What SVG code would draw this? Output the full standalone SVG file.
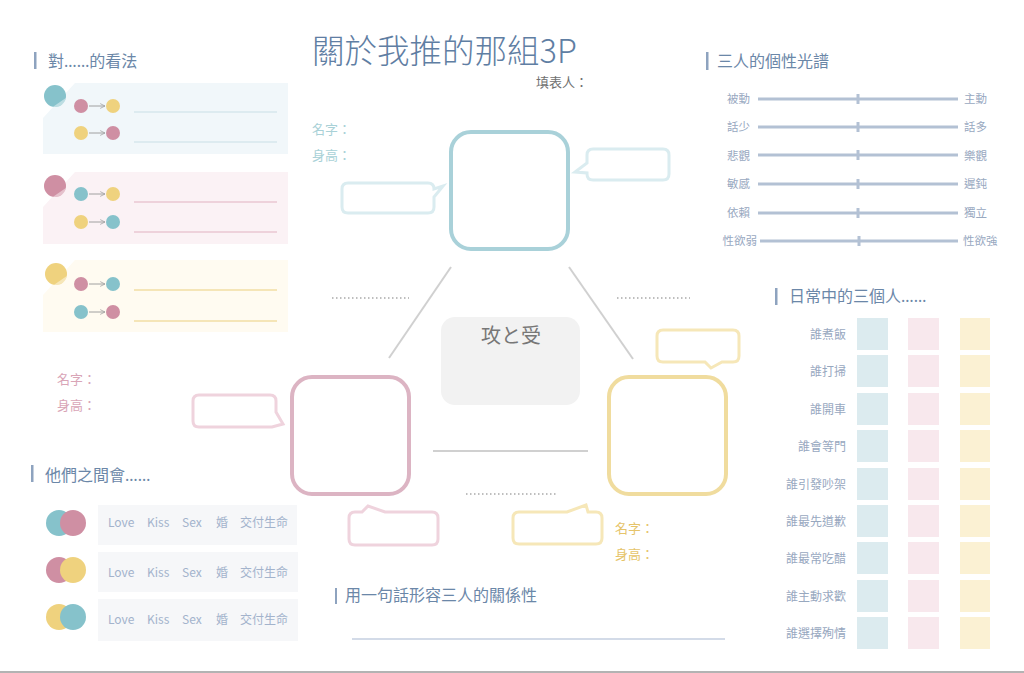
<svg xmlns="http://www.w3.org/2000/svg" width="1024" height="673" viewBox="0 0 1024 673">
<defs>
<style>
text{font-family:"Noto Sans CJK TC","Noto Sans",sans-serif;}
.el{font-family:"Noto Sans","Open Sans",sans-serif;}
.hd{font-size:16px;fill:#6b87a8;}
.bar{fill:#8ea3bf;}
.sp{font-size:11.5px;fill:#98a8bf;}
.spl{stroke:#b3c1d4;stroke-width:3;}
.gl{font-size:12px;fill:#98a8bf;text-anchor:end;}
.lv{font-size:12px;fill:#a3b3cc;font-family:"Open Sans","Noto Sans CJK TC",sans-serif;}
.cb{fill:#f6f7f9;}
.ct{fill:#86c2cb;}
.cp{fill:#cf8fa3;}
.cy{fill:#efd27e;}
.arr{stroke:#a0a0a0;stroke-width:1;fill:none;}
.conn{stroke:#d0d0d0;stroke-width:2;fill:none;}
.dot{stroke:#a9a9a9;stroke-width:1.5;stroke-dasharray:1.5 2.5;fill:none;}
.hl{fill:#ffffff;opacity:0.45;}
</style>
<marker id="ah" viewBox="0 0 10 10" refX="9" refY="5" markerWidth="6" markerHeight="6" orient="auto">
<path d="M1,1 L9,5 L1,9" fill="none" stroke="#a0a0a0" stroke-width="1.3"/>
</marker>
</defs>
<rect x="0" y="0" width="1024" height="673" fill="#ffffff"/>
<line x1="0" y1="672" x2="1024" y2="672" stroke="#9a9a9a" stroke-width="1.5"/>

<g id="title">
<text x="312" y="63" font-size="32.5" font-weight="300" fill="#5f7ea3">關於我推的那組3P</text>
<text x="536" y="87" font-size="13" fill="#707070">填表人：</text>
</g>

<g id="views">
<rect class="bar" x="34" y="52" width="2.5" height="17"/>
<text class="hd" x="48" y="67">對<tspan class="el">……</tspan>的看法</text>
<g id="view-teal">
<polygon points="75,83 288,83 288,154 43,154 43,118" fill="#f1f7fa"/>
<circle class="ct" cx="55" cy="96" r="11"/>
<path class="hl" d="M65.8,97.9 A11,11 0 0 1 53.1,106.8 Z"/>
<circle class="cp" cx="81" cy="106" r="7"/><line class="arr" x1="89" y1="106" x2="105" y2="106" marker-end="url(#ah)"/><circle class="cy" cx="113" cy="106" r="7"/>
<circle class="cy" cx="81" cy="133" r="7"/><line class="arr" x1="89" y1="133" x2="105" y2="133" marker-end="url(#ah)"/><circle class="cp" cx="113" cy="133" r="7"/>
<line x1="134" y1="112" x2="277" y2="112" stroke="#c9e0e6" stroke-width="1.2"/>
<line x1="134" y1="142" x2="277" y2="142" stroke="#c9e0e6" stroke-width="1.2"/>
</g>
<g id="view-pink">
<polygon points="75,172 288,172 288,244 43,244 43,207" fill="#fbf2f5"/>
<circle class="cp" cx="55" cy="186" r="11"/>
<path class="hl" d="M65.8,187.9 A11,11 0 0 1 53.1,196.8 Z"/>
<circle class="ct" cx="81" cy="194" r="7"/><line class="arr" x1="89" y1="194" x2="105" y2="194" marker-end="url(#ah)"/><circle class="cy" cx="113" cy="194" r="7"/>
<circle class="cy" cx="81" cy="222" r="7"/><line class="arr" x1="89" y1="222" x2="105" y2="222" marker-end="url(#ah)"/><circle class="ct" cx="113" cy="222" r="7"/>
<line x1="134" y1="202" x2="277" y2="202" stroke="#e2b2c2" stroke-width="1.2"/>
<line x1="134" y1="232" x2="277" y2="232" stroke="#e2b2c2" stroke-width="1.2"/>
</g>
<g id="view-yellow">
<polygon points="75,260 288,260 288,332 43,332 43,295" fill="#fffbf1"/>
<circle class="cy" cx="56" cy="274" r="11"/>
<path class="hl" d="M66.8,275.9 A11,11 0 0 1 54.1,284.8 Z"/>
<circle class="cp" cx="81" cy="284" r="7"/><line class="arr" x1="89" y1="284" x2="105" y2="284" marker-end="url(#ah)"/><circle class="ct" cx="113" cy="284" r="7"/>
<circle class="ct" cx="81" cy="312" r="7"/><line class="arr" x1="89" y1="312" x2="105" y2="312" marker-end="url(#ah)"/><circle class="cp" cx="113" cy="312" r="7"/>
<line x1="134" y1="290" x2="277" y2="290" stroke="#eccf7e" stroke-width="1.2"/>
<line x1="134" y1="321" x2="277" y2="321" stroke="#eccf7e" stroke-width="1.2"/>
</g>
</g>

<g id="connectors">
<line class="conn" x1="451" y1="267" x2="389" y2="358"/>
<line class="conn" x1="569" y1="267" x2="633" y2="359"/>
<line class="conn" x1="433" y1="451" x2="588" y2="451"/>
<line class="dot" x1="332" y1="298" x2="409" y2="298"/>
<line class="dot" x1="617" y1="298" x2="690" y2="298"/>
<line class="dot" x1="466" y1="494" x2="556" y2="494"/>
</g>

<g id="person-teal">
<text x="312" y="134" font-size="13" fill="#a9d1d7">名字：</text>
<text x="312" y="160" font-size="13" fill="#a9d1d7">身高：</text>
<rect x="451" y="132" width="117" height="117" rx="20" fill="none" stroke="#a9d1d9" stroke-width="4"/>
<path d="M348,183 H428 Q434,183 434,189 L443,186 L434,197 V207 Q434,213 428,213 H348 Q342,213 342,207 V189 Q342,183 348,183 Z" fill="#ffffff" stroke="#daecf0" stroke-width="3"/>
<path d="M593,149 H663 Q669,149 669,155 V174 Q669,180 663,180 H593 Q587,180 587,174 V173 L575,172 L587,163 V155 Q587,149 593,149 Z" fill="#ffffff" stroke="#daecf0" stroke-width="3"/>
</g>

<g id="center">
<rect x="441" y="317" width="139" height="88" rx="14" fill="#f2f2f2"/>
<text x="511" y="343" font-size="20" fill="#777777" text-anchor="middle">攻と受</text>
</g>

<g id="person-pink">
<text x="57" y="384" font-size="13" fill="#d9a5b7">名字：</text>
<text x="57" y="410" font-size="13" fill="#d9a5b7">身高：</text>
<rect x="292" y="377" width="117" height="117" rx="20" fill="none" stroke="#dcb4c3" stroke-width="4"/>
<path d="M199,395 H270 Q276,395 276,401 V412 L283,424 L272,427 H199 Q193,427 193,421 V401 Q193,395 199,395 Z" fill="#ffffff" stroke="#efd3dd" stroke-width="3"/>
<path d="M355,512 H362 L368,506 L385,512 H432 Q438,512 438,518 V539 Q438,545 432,545 H355 Q349,545 349,539 V518 Q349,512 355,512 Z" fill="#ffffff" stroke="#efd3dd" stroke-width="3"/>
</g>

<g id="person-yellow">
<rect x="609" y="377" width="117" height="117" rx="20" fill="none" stroke="#f0dc9e" stroke-width="4"/>
<path d="M663,330 H733 Q739,330 739,336 V356 Q739,362 733,362 H722 L711,368 L705,362 H663 Q657,362 657,356 V336 Q657,330 663,330 Z" fill="#ffffff" stroke="#f6e7b8" stroke-width="3"/>
<path d="M519,512 H567 L586,505 L588,512 H596 Q602,512 602,518 V538 Q602,544 596,544 H519 Q513,544 513,538 V518 Q513,512 519,512 Z" fill="#ffffff" stroke="#f6e7b8" stroke-width="3"/>
<text x="615" y="533" font-size="13" fill="#e6c46a">名字：</text>
<text x="615" y="559" font-size="13" fill="#e6c46a">身高：</text>
</g>

<g id="spectrum">
<rect class="bar" x="706" y="52" width="2.5" height="18"/>
<text class="hd" x="717" y="67">三人的個性光譜</text>
<g>
<text class="sp" x="750" y="103" text-anchor="end">被動</text><line class="spl" x1="758" y1="99" x2="958" y2="99"/><line class="spl" stroke-width="1.5" x1="858" y1="94" x2="858" y2="104"/><text class="sp" x="964" y="103">主動</text>
<text class="sp" x="750" y="131" text-anchor="end">話少</text><line class="spl" x1="758" y1="127" x2="958" y2="127"/><line class="spl" stroke-width="1.5" x1="858" y1="122" x2="858" y2="132"/><text class="sp" x="964" y="131">話多</text>
<text class="sp" x="750" y="160" text-anchor="end">悲觀</text><line class="spl" x1="758" y1="155" x2="958" y2="155"/><line class="spl" stroke-width="1.5" x1="858" y1="150" x2="858" y2="160"/><text class="sp" x="964" y="160">樂觀</text>
<text class="sp" x="750" y="188" text-anchor="end">敏感</text><line class="spl" x1="758" y1="184" x2="958" y2="184"/><line class="spl" stroke-width="1.5" x1="858" y1="179" x2="858" y2="189"/><text class="sp" x="964" y="188">遲鈍</text>
<text class="sp" x="750" y="217" text-anchor="end">依賴</text><line class="spl" x1="758" y1="213" x2="958" y2="213"/><line class="spl" stroke-width="1.5" x1="858" y1="208" x2="858" y2="218"/><text class="sp" x="964" y="217">獨立</text>
<text class="sp" x="757" y="245" text-anchor="end">性欲弱</text><line class="spl" x1="760" y1="241" x2="958" y2="241"/><line class="spl" stroke-width="1.5" x1="859" y1="236" x2="859" y2="246"/><text class="sp" x="963" y="245">性欲強</text>
</g>
</g>

<g id="daily">
<rect class="bar" x="775" y="288" width="2.5" height="17"/>
<text class="hd" x="789" y="302">日常中的三個人<tspan class="el">……</tspan></text>
<g fill="#dcebef">
<rect x="857" y="318" width="31" height="32"/><rect x="857" y="355" width="31" height="32"/><rect x="857" y="393" width="31" height="32"/><rect x="857" y="430" width="31" height="32"/><rect x="857" y="468" width="31" height="32"/><rect x="857" y="505" width="31" height="32"/><rect x="857" y="542" width="31" height="32"/><rect x="857" y="580" width="31" height="32"/><rect x="857" y="617" width="31" height="32"/>
</g>
<g fill="#f8e8ed">
<rect x="908" y="318" width="31" height="32"/><rect x="908" y="355" width="31" height="32"/><rect x="908" y="393" width="31" height="32"/><rect x="908" y="430" width="31" height="32"/><rect x="908" y="468" width="31" height="32"/><rect x="908" y="505" width="31" height="32"/><rect x="908" y="542" width="31" height="32"/><rect x="908" y="580" width="31" height="32"/><rect x="908" y="617" width="31" height="32"/>
</g>
<g fill="#fbf1d3">
<rect x="960" y="318" width="30" height="32"/><rect x="960" y="355" width="30" height="32"/><rect x="960" y="393" width="30" height="32"/><rect x="960" y="430" width="30" height="32"/><rect x="960" y="468" width="30" height="32"/><rect x="960" y="505" width="30" height="32"/><rect x="960" y="542" width="30" height="32"/><rect x="960" y="580" width="30" height="32"/><rect x="960" y="617" width="30" height="32"/>
</g>
<text class="gl" x="846" y="339">誰煮飯</text>
<text class="gl" x="846" y="376">誰打掃</text>
<text class="gl" x="846" y="414">誰開車</text>
<text class="gl" x="846" y="451">誰會等門</text>
<text class="gl" x="846" y="489">誰引發吵架</text>
<text class="gl" x="846" y="526">誰最先道歉</text>
<text class="gl" x="846" y="563">誰最常吃醋</text>
<text class="gl" x="846" y="601">誰主動求歡</text>
<text class="gl" x="846" y="638">誰選擇殉情</text>
</g>

<g id="between">
<rect class="bar" x="31" y="465" width="2.5" height="17"/>
<text class="hd" x="45" y="481">他們之間會<tspan class="el">……</tspan></text>
<rect class="cb" x="98" y="505" width="199" height="40"/>
<rect class="cb" x="98" y="552" width="200" height="40"/>
<rect class="cb" x="98" y="599" width="200" height="42"/>
<circle class="ct" cx="59" cy="523" r="13"/><circle class="cp" cx="73" cy="523" r="13"/>
<circle class="cp" cx="59" cy="570" r="13"/><circle class="cy" cx="73" cy="570" r="13"/>
<circle class="cy" cx="59" cy="617" r="13"/><circle class="ct" cx="73" cy="617" r="13"/>
<g class="lv">
<text x="108" y="527">Love</text><text x="147" y="527">Kiss</text><text x="182" y="527">Sex</text><text x="216" y="527">婚</text><text x="240" y="527">交付生命</text>
<text x="108" y="577">Love</text><text x="147" y="577">Kiss</text><text x="182" y="577">Sex</text><text x="216" y="577">婚</text><text x="240" y="577">交付生命</text>
<text x="108" y="624">Love</text><text x="147" y="624">Kiss</text><text x="182" y="624">Sex</text><text x="216" y="624">婚</text><text x="240" y="624">交付生命</text>
</g>
</g>

<g id="relation">
<rect class="bar" x="335" y="588" width="2" height="16"/>
<text class="hd" x="345" y="601">用一句話形容三人的關係性</text>
<line x1="352" y1="639" x2="725" y2="639" stroke="#c5cfe0" stroke-width="1.5"/>
</g>
</svg>
